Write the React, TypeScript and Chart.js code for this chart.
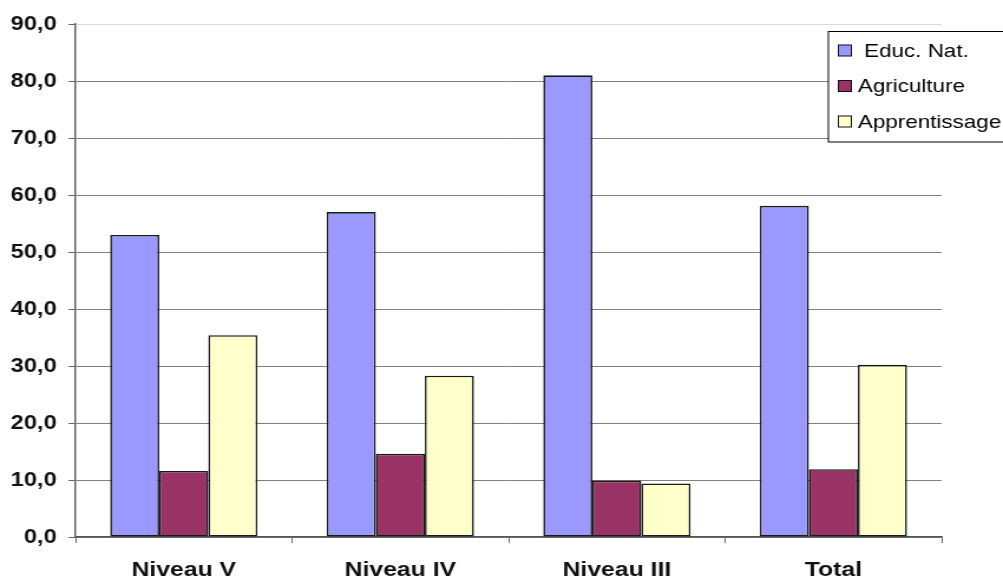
import React, { useEffect, useRef } from "react";
import { Chart, registerables } from "chart.js";

Chart.register(...registerables);

const categories = ["Niveau V", "Niveau IV", "Niveau III", "Total"];
const seriesNames = [" Educ. Nat.", "Agriculture", "Apprentissage"];
const educNat = [53.0, 57.0, 81.0, 58.1];
const agriculture = [11.6, 14.6, 9.9, 11.9];
const apprentissage = [35.4, 28.3, 9.4, 30.2];
const seriesColors = ["#9999FF", "#993366", "#FFFFCC"];

const SCREEN_W = 1003;
const SCREEN_H = 577;
const STRETCH = 1.18;
const CANVAS_W = Math.round(SCREEN_W / STRETCH);
const FONT = "'Liberation Sans', Arial, Helvetica, sans-serif";

const boxLegend = {
  id: "boxLegend",
  afterDraw(chart: any) {
    const ctx = chart.ctx as CanvasRenderingContext2D;
    const left = 702;
    const top = 31.5;
    const bottom = 142;
    ctx.save();
    ctx.fillStyle = "#ffffff";
    ctx.fillRect(left, top, chart.width - left + 5, bottom - top);
    ctx.strokeStyle = "#000000";
    ctx.lineWidth = 1;
    ctx.strokeRect(left, top, chart.width - left + 5, bottom - top);
    const centers = [50.5, 86, 121.5];
    ctx.font = `19px ${FONT}`;
    ctx.textBaseline = "middle";
    ctx.textAlign = "left";
    chart.data.datasets.forEach((ds: any, i: number) => {
      const cy = centers[i];
      ctx.fillStyle = ds.backgroundColor;
      ctx.fillRect(710.5, cy - 5.5, 11, 11);
      ctx.strokeStyle = "#111111";
      ctx.lineWidth = 1;
      ctx.strokeRect(710.5, cy - 5.5, 11, 11);
      ctx.fillStyle = "#000000";
      ctx.fillText(ds.label, 727, cy + 1);
    });
    ctx.restore();
  },
};

export default function App() {
  const canvasRef = useRef<HTMLCanvasElement | null>(null);

  useEffect(() => {
    if (!canvasRef.current) return;
    const seriesData = [educNat, agriculture, apprentissage];
    const chart = new Chart(canvasRef.current, {
      type: "bar",
      data: {
        labels: categories,
        datasets: seriesData.map((d, i) => ({
          label: seriesNames[i],
          data: d,
          backgroundColor: seriesColors[i],
          borderColor: "#1a1a1a",
          borderWidth: 1.6,
          borderSkipped: false,
          categoryPercentage: 0.68,
          barPercentage: 1,
        })),
      },
      options: {
        responsive: false,
        animation: false,
        devicePixelRatio: 1,
        layout: { padding: { left: 0, right: 52, top: 24, bottom: 0 } },
        plugins: {
          legend: { display: false },
          tooltip: { enabled: false },
        },
        scales: {
          x: {
            offset: true,
            grid: {
              offset: true,
              drawOnChartArea: false,
              drawTicks: true,
              tickLength: 6,
              color: "#666666",
              lineWidth: 1,
            },
            border: { display: true, color: "#555555", width: 1.5 },
            ticks: {
              color: "#111111",
              padding: 15,
              font: { family: FONT, size: 21, weight: "bold" },
              maxRotation: 0,
            },
            afterFit: (scale: any) => {
              scale.height = 40;
            },
          },
          y: {
            min: 0,
            max: 90,
            grid: {
              color: (c: any) => (c.tick && c.tick.value === 90 ? "#d9d9d9" : "#808080"),
              tickColor: "#666666",
              lineWidth: 1,
              drawTicks: true,
              tickLength: 6,
            },
            border: { display: true, color: "#666666", width: 1.5 },
            ticks: {
              stepSize: 10,
              color: "#111111",
              padding: 10,
              font: { family: FONT, size: 20, weight: "bold" },
              callback: (v: any) => Number(v).toFixed(1).replace(".", ","),
            },
            afterFit: (scale: any) => {
              scale.width = 64;
            },
          },
        },
      },
      plugins: [boxLegend],
    });
    return () => chart.destroy();
  }, []);

  return (
    <div
      style={{
        position: "absolute",
        left: 0,
        top: 0,
        width: SCREEN_W,
        height: SCREEN_H,
        background: "#ffffff",
        overflow: "hidden",
      }}
    >
      <canvas
        ref={canvasRef}
        width={CANVAS_W}
        height={SCREEN_H}
        style={{ width: `${SCREEN_W}px`, height: `${SCREEN_H}px`, display: "block" }}
      />
    </div>
  );
}
